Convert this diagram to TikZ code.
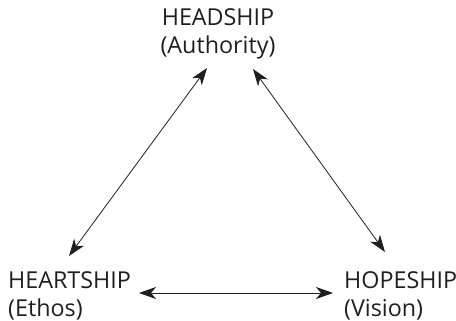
\documentclass[tikz,border=0pt]{standalone}
\usepackage{fontspec}
\setmainfont{Open Sans}
\usetikzlibrary{arrows.meta}
\begin{document}
\begin{tikzpicture}[x=1pt,y=-1pt,
  lbl/.style={inner sep=0pt,font=\fontsize{23.3}{28}\selectfont,text=black!88},
  link/.style={draw=black!88,line width=0.8pt,{Stealth[length=17pt,width=12pt,inset=5pt]}-{Stealth[length=17pt,width=12pt,inset=5pt]}}]
\useasboundingbox (0,0) rectangle (456,321);
\node[lbl,align=center,anchor=base] (head) at (218,54) {HEADSHIP\\(Authority)};
\node[lbl,align=left,anchor=base west] (heart) at (8,316) {HEARTSHIP\\(Ethos)};
\node[lbl,align=left,anchor=base west] (hope) at (344,316) {HOPESHIP\\(Vision)};
\coordinate (hl) at (207,68);
\coordinate (hr) at (253,69);
\coordinate (el) at (69,256);
\coordinate (er) at (139,293);
\coordinate (vl) at (333,293);
\coordinate (vt) at (385,252);
\draw[link] (hl) -- (el);
\draw[link] (hr) -- (vt);
\draw[link] (er) -- (vl);
\end{tikzpicture}
\end{document}
